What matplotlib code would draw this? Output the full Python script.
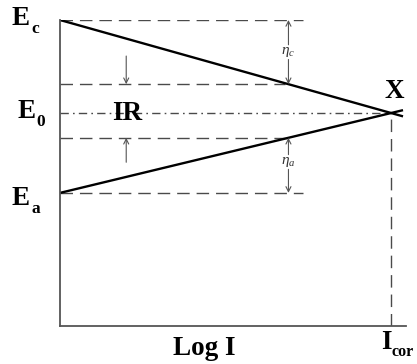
import matplotlib
matplotlib.use("Agg")
import matplotlib.pyplot as plt
import matplotlib.transforms as mtransforms
import numpy as np

plt.rcParams["font.family"] = ["Liberation Serif", "DejaVu Serif"]
plt.rcParams["mathtext.fontset"] = "custom"
plt.rcParams["mathtext.rm"] = "Liberation Serif"
plt.rcParams["mathtext.it"] = "Liberation Serif:italic"

# Potentials (arbitrary units) and log-current positions
E_c = 1.000          # cathode open-circuit potential
E_0 = 0.696          # corrosion (mixed) potential
E_a = 0.435          # anode open-circuit potential
logI_cor = 1.0       # corrosion current
logI_applied = 0.69  # operating current for the overpotentials
logI_end = 1.036     # where the polarization lines stop

# Polarization lines through the corrosion point
def cathodic(x):
    return E_c + (E_0 - E_c) * x / logI_cor

def anodic(x):
    return E_a + (E_0 - E_a) * x / logI_cor

E_c_op = cathodic(logI_applied)
E_a_op = anodic(logI_applied)

fig = plt.figure(figsize=(4.17, 3.64), dpi=100)
ax = fig.add_axes([60 / 417, 38 / 364, 346 / 417, 306 / 364])
ax.set_xlim(0, 1.045)
ax.set_ylim(0, 1.0)
for s in ("top", "right"):
    ax.spines[s].set_visible(False)
for s in ("left", "bottom"):
    ax.spines[s].set_color("#555555")
    ax.spines[s].set_linewidth(1.3)
ax.set_xticks([])
ax.set_yticks([])

gray = "#4a4a4a"
dash = (0, (9, 5))

# Reference levels
ax.plot([0, logI_applied + 0.045], [E_c, E_c], color=gray, lw=1, ls=dash)
ax.plot([0, logI_applied + 0.045], [E_a, E_a], color=gray, lw=1, ls=dash)
ax.plot([0, logI_applied - 0.01], [E_c_op, E_c_op], color=gray, lw=1, ls=dash)
ax.plot([0, logI_applied], [E_a_op, E_a_op], color=gray, lw=1, ls=dash)
ax.plot([0, logI_cor], [E_0, E_0], color=gray, lw=1, ls=(0, (6, 3, 1.2, 3)))
ax.plot([logI_cor, logI_cor], [0, E_0], color=gray, lw=1, ls=dash)

# Polarization lines
xs = np.array([0, logI_end])
ax.plot(xs, cathodic(xs), color="black", lw=1.7, solid_capstyle="butt")
ax.plot(xs, anodic(xs), color="black", lw=1.7, solid_capstyle="butt")

arrow = dict(arrowstyle="->", color="#555555", lw=0.8, mutation_scale=9,
             shrinkA=0, shrinkB=0)

# IR drop arrows
x_ir = 0.2
ax.annotate("", xy=(x_ir, E_c_op), xytext=(x_ir, E_c_op + 0.092), arrowprops=arrow)
ax.annotate("", xy=(x_ir, E_a_op), xytext=(x_ir, E_a_op - 0.08), arrowprops=arrow)

# Overpotential arrows
eta_c_y = 0.895
eta_a_y = 0.536
gap = 0.024
ax.annotate("", xy=(logI_applied, E_c), xytext=(logI_applied, eta_c_y + gap), arrowprops=arrow)
ax.annotate("", xy=(logI_applied, E_c_op), xytext=(logI_applied, eta_c_y - gap), arrowprops=arrow)
ax.annotate("", xy=(logI_applied, E_a_op), xytext=(logI_applied, eta_a_y + gap), arrowprops=arrow)
ax.annotate("", xy=(logI_applied, E_a), xytext=(logI_applied, eta_a_y - gap), arrowprops=arrow)
ax.text(logI_applied, eta_c_y, r"$\eta_c$", ha="center", va="center", fontsize=11, color="#333333")
ax.text(logI_applied, eta_a_y, r"$\eta_a$", ha="center", va="center", fontsize=11, color="#333333")

# Labels with bold subscripts
blend = mtransforms.blended_transform_factory(ax.transAxes, ax.transData)
big, small = 19.5, 12.5


def sub_label(x, y, main, sub, transform, drop=4.3, size=small, pad=0.8):
    t = ax.text(x, y, main, transform=transform, ha="left", va="baseline",
                fontsize=big, fontweight="bold", clip_on=False)
    ax.annotate(sub, xy=(1, 0), xycoords=t, xytext=(pad, -drop),
                textcoords="offset points", ha="left", va="bottom",
                fontsize=size, fontweight="bold", annotation_clip=False)


sub_label(-0.139, E_c - 0.016, "E", "c", blend)
sub_label(-0.124, E_0 - 0.016, "E", "0", blend)
sub_label(-0.139, E_a - 0.040, "E", "a", blend)
sub_label((381 - 60) / 331, -0.076, "I", "cor", ax.transData, drop=3.4, size=11.5, pad=0.2)

ax.text(0.2024, E_0 - 0.023, "IR", ha="center", va="baseline", fontsize=big, fontweight="bold")
ax.text(1.009, E_0 + 0.049, "X", ha="center", va="baseline", fontsize=big, fontweight="bold")
ax.text(0.435, -0.095, "Log I", ha="center", va="baseline", fontsize=big, fontweight="bold")

fig.savefig("out.png", dpi=100)
